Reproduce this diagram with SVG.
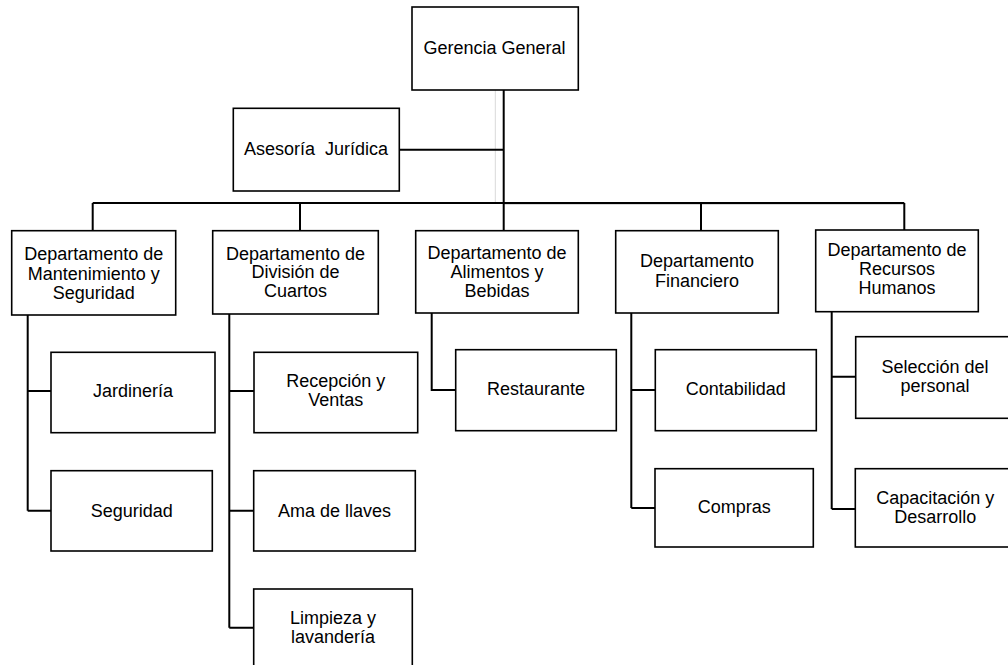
<svg xmlns="http://www.w3.org/2000/svg" width="1008" height="665" viewBox="0 0 1008 665">
<style>
.box{fill:#fff;stroke:#000;stroke-width:1.6}
.t{font-family:"Liberation Sans",Arial,sans-serif;font-size:18px;fill:#000;text-anchor:middle;white-space:pre}
.c{fill:none;stroke:#000;stroke-width:2}
.g{fill:none;stroke:#d9d9d9;stroke-width:1}
</style>
<rect width="1008" height="665" fill="#fff"/>
<g id="connectors">
<path class="g" d="M495.3 90V202M504 204.5H904"/>
<path class="c" d="M503.7 90V230.7M399.3 149.7H503.7M92.7 203H904.3M92.7 203V230.7M300 203V230.7M701 203V230.7M904.3 203V230"/>
<path class="c" d="M27.7 315V510.7M27.7 391H51M27.7 510.7H51"/>
<path class="c" d="M229.3 314V627.7M229.3 391H254M229.3 510.7H253.7M229.3 627.7H253.7"/>
<path class="c" d="M431.7 313V390H455.7"/>
<path class="c" d="M631.3 313V508M631.3 390H655.3M631.3 508H655"/>
<path class="c" d="M831.7 311.7V509M831.7 376.7H855.7M831.7 509H855.3"/>
</g>
<g id="gerencia"><rect class="box" x="412" y="7" width="166.3" height="83"/><text class="t" x="494.5" y="54" font-size="18.4">Gerencia General</text></g>
<g id="asesoria"><rect class="box" x="233.3" y="108.3" width="166" height="82.7"/><text class="t" x="316" y="155">Asesoría  Jurídica</text></g>
<g id="dep-mant"><rect class="box" x="11.7" y="230.7" width="164" height="84.3"/><text class="t" x="93.7" y="260.3">Departamento de</text><text class="t" x="93.7" y="279.7">Mantenimiento y</text><text class="t" x="93.7" y="299">Seguridad</text></g>
<g id="dep-cuartos"><rect class="box" x="212.7" y="230.7" width="165.6" height="83.3"/><text class="t" x="295.5" y="259.5">Departamento de</text><text class="t" x="295.5" y="278">División de</text><text class="t" x="295.5" y="296.5">Cuartos</text></g>
<g id="dep-alimentos"><rect class="box" x="415.7" y="230.7" width="162.6" height="82.3"/><text class="t" x="497" y="258.5">Departamento de</text><text class="t" x="497" y="277.5">Alimentos y</text><text class="t" x="497" y="296.5">Bebidas</text></g>
<g id="dep-financiero"><rect class="box" x="615.7" y="230.7" width="162.6" height="82.3"/><text class="t" x="697" y="267.3">Departamento</text><text class="t" x="697" y="286.7">Financiero</text></g>
<g id="dep-rrhh"><rect class="box" x="815.7" y="230" width="162.6" height="81.7"/><text class="t" x="897" y="255.7">Departamento de</text><text class="t" x="897" y="275">Recursos</text><text class="t" x="897" y="294">Humanos</text></g>
<g id="jardineria"><rect class="box" x="51" y="352.3" width="164" height="80.4"/><text class="t" x="133" y="397.3">Jardinería</text></g>
<g id="seguridad"><rect class="box" x="51" y="470.7" width="161.3" height="80.3"/><text class="t" x="131.7" y="516.7">Seguridad</text></g>
<g id="recepcion"><rect class="box" x="254" y="352.3" width="163.7" height="80.4"/><text class="t" x="335.8" y="386.7">Recepción y</text><text class="t" x="335.8" y="406.2">Ventas</text></g>
<g id="ama"><rect class="box" x="253.7" y="470.7" width="161.6" height="80.3"/><text class="t" x="334.5" y="516.7">Ama de llaves</text></g>
<g id="limpieza"><rect class="box" x="253.7" y="589" width="158.6" height="80"/><text class="t" x="333" y="624">Limpieza y</text><text class="t" x="333" y="642.8">lavandería</text></g>
<g id="restaurante"><rect class="box" x="455.7" y="349.7" width="160.6" height="81"/><text class="t" x="536" y="395">Restaurante</text></g>
<g id="contabilidad"><rect class="box" x="655.3" y="349.7" width="161" height="81"/><text class="t" x="735.8" y="395">Contabilidad</text></g>
<g id="compras"><rect class="box" x="655" y="468.7" width="158.3" height="78.3"/><text class="t" x="734.2" y="512.7">Compras</text></g>
<g id="seleccion"><rect class="box" x="855.7" y="336.7" width="162" height="81.6"/><text class="t" x="935" y="372.7">Selección del</text><text class="t" x="935" y="391.7">personal</text></g>
<g id="capacitacion"><rect class="box" x="855.3" y="468.7" width="162" height="78.3"/><text class="t" x="935.3" y="503.5">Capacitación y</text><text class="t" x="935.3" y="522.5">Desarrollo</text></g>
</svg>
